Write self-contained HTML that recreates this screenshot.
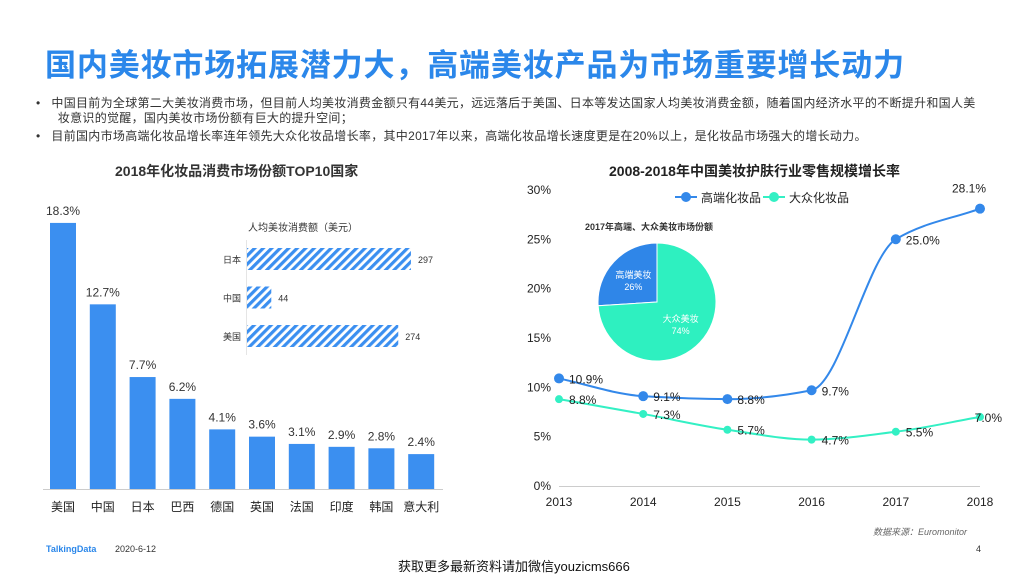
<!DOCTYPE html>
<html><head><meta charset="utf-8"><style>
body{margin:0;width:1024px;height:576px;overflow:hidden;background:#fff;font-family:"Liberation Sans","Noto Sans CJK SC",sans-serif;position:relative}
.t{position:absolute;white-space:nowrap}
</style></head><body>
<div class="t" style="left:45px;top:40px;font-size:31px;font-weight:bold;color:#2b87ea;letter-spacing:0.85px">国内美妆市场拓展潜力大，高端美妆产品为市场重要增长动力</div>
<div class="t" style="left:36px;top:96px;font-size:12px;color:#333;line-height:15px;white-space:normal;width:990px;letter-spacing:0.3px">•&nbsp;&nbsp;&nbsp;中国目前为全球第二大美妆消费市场，但目前人均美妆消费金额只有44美元，远远落后于美国、日本等发达国家人均美妆消费金额，随着国内经济水平的不断提升和国人美<br>&nbsp;&nbsp;&nbsp;&nbsp;&nbsp;&nbsp;妆意识的觉醒，国内美妆市场份额有巨大的提升空间；</div>
<div class="t" style="left:36px;top:127px;font-size:12px;color:#333;letter-spacing:0.3px">•&nbsp;&nbsp;&nbsp;目前国内市场高端化妆品增长率连年领先大众化妆品增长率，其中2017年以来，高端化妆品增长速度更是在20%以上，是化妆品市场强大的增长动力。</div>
<div class="t" style="left:115px;top:161px;font-size:14px;font-weight:bold;color:#333">2018年化妆品消费市场份额TOP10国家</div>
<div class="t" style="left:609px;top:161px;font-size:14px;font-weight:bold;color:#222">2008-2018年中国美妆护肤行业零售规模增长率</div>
<svg id="s" width="1024" height="576" style="position:absolute;left:0;top:0" font-family="Liberation Sans, Noto Sans CJK SC, sans-serif">
<defs><pattern id="h" width="6" height="6" patternUnits="userSpaceOnUse" patternTransform="rotate(45)"><rect width="6" height="6" fill="#fff"/><rect width="3.2" height="6" fill="#3b8ff0"/></pattern></defs>
</svg>
<div class="t" style="left:873px;top:525px;font-size:9px;font-style:italic;color:#666">数据来源：Euromonitor</div>
<div class="t" style="left:46px;top:544px;font-size:9px;color:#2b87ea;font-weight:bold">TalkingData</div>
<div class="t" style="left:115px;top:544px;font-size:9px;color:#333">2020-6-12</div>
<div class="t" style="left:976px;top:544px;font-size:9px;color:#333">4</div>
<div class="t" style="left:398px;top:556px;font-size:13px;color:#111">获取更多最新资料请加微信youzicms666</div>
<script>
const countries=['美国','中国','日本','巴西','德国','英国','法国','印度','韩国','意大利'];
const shares=[18.3,12.7,7.7,6.2,4.1,3.6,3.1,2.9,2.8,2.4];
const insetCats=['日本','中国','美国'];
const insetVals=[297,44,274];
const years=['2013','2014','2015','2016','2017','2018'];
const highEnd=[10.9,9.1,8.8,9.7,25.0,28.1];
const massMarket=[8.8,7.3,5.7,4.7,5.5,7.0];
const yTicks=[0,5,10,15,20,25,30];
const pieLabels=['高端美妆','大众美妆'];
const pieVals=[26,74];
const S=document.getElementById('s');const NS='http://www.w3.org/2000/svg';
function mk(t,a,txt){const e=document.createElementNS(NS,t);for(const k in a)e.setAttribute(k,a[k]);if(txt!==undefined)e.textContent=txt;S.appendChild(e);return e;}
const bx=i=>63+i*39.8, by=v=>489-v*14.54;
countries.forEach((c,i)=>{
 const r=mk('rect',{x:bx(i)-13,y:by(shares[i]),width:26,height:489-by(shares[i]),fill:'#3b8ff0'});
 
 
 const v=mk('text',{x:bx(i),y:by(shares[i])-8,'font-size':12,'text-anchor':'middle',fill:'#333'},shares[i].toFixed(1)+'%');
 
 
 const l=mk('text',{x:bx(i),y:511,'font-size':12,'text-anchor':'middle',fill:'#222'},c);
 
 
});
mk('line',{x1:43,x2:443,y1:489.5,y2:489.5,stroke:'#ccc'});
const it=mk('text',{x:248,y:231,'font-size':10,fill:'#333'},'人均美妆消费额（美元）');


mk('line',{x1:246.5,x2:246.5,y1:240,y2:355,stroke:'#e5e5e5'});
const ix=v=>247+v*0.552;
insetCats.forEach((c,i)=>{const y=248+i*38.5;
 const r=mk('rect',{x:247,y:y,width:ix(insetVals[i])-247,height:22,fill:'url(#h)'});
 
 
 mk('text',{x:241,y:y+15,'font-size':9,'text-anchor':'end',fill:'#333'},c);
 mk('text',{x:ix(insetVals[i])+7,y:y+15,'font-size':9,fill:'#333'},insetVals[i]);
});
const lx=i=>559+i*84.2, ly=v=>486-v*9.87;
yTicks.forEach(t=>{mk('text',{x:551,y:ly(t)+4,'font-size':12,'text-anchor':'end',fill:'#222'},t+'%');});
mk('line',{x1:559,x2:980,y1:486.5,y2:486.5,stroke:'#ccc'});
years.forEach((y,i)=>{mk('text',{x:lx(i),y:506,'font-size':12,'text-anchor':'middle',fill:'#222'},y);});
function path(d){const p=d.map((v,i)=>[lx(i),ly(v)]);const n=p.length;
 const dl=[],m=[];for(let i=0;i<n-1;i++)dl.push((p[i+1][1]-p[i][1])/(p[i+1][0]-p[i][0]));
 m[0]=dl[0];m[n-1]=dl[n-2];
 for(let i=1;i<n-1;i++){m[i]=(dl[i-1]*dl[i]<=0)?0:(2/(1/dl[i-1]+1/dl[i]));}
 let s='M'+p[0];
 for(let i=0;i<n-1;i++){const h=(p[i+1][0]-p[i][0])/3;
  s+=' C'+(p[i][0]+h)+','+(p[i][1]+m[i]*h)+' '+(p[i+1][0]-h)+','+(p[i+1][1]-m[i+1]*h)+' '+p[i+1];}
 return s;}
[[highEnd,'#3388ea',5,'high'],[massMarket,'#33f0c4',4,'mass']].forEach(([d,c,r,n])=>{
 const pl=mk('path',{d:path(d),fill:'none',stroke:c,'stroke-width':2});
 
 
 d.forEach((v,i)=>{const pt=mk('circle',{cx:lx(i),cy:ly(v),r:r,fill:c});
  
  
  const last=i==d.length-1;
  mk('text',{x:last?(n=='high'?lx(i)+6:lx(i)+22):lx(i)+10,y:last&&n=='high'?ly(v)-16:ly(v)+5,'font-size':12,'text-anchor':last?'end':'start',fill:'#222'},v.toFixed(1)+'%');});
});
mk('line',{x1:675,x2:697,y1:197,y2:197,stroke:'#3388ea','stroke-width':2});mk('circle',{cx:686,cy:197,r:5,fill:'#3388ea'});
mk('text',{x:701,y:202,'font-size':12,fill:'#222'},'高端化妆品');
mk('line',{x1:763,x2:785,y1:197,y2:197,stroke:'#33f0c4','stroke-width':2});mk('circle',{cx:774,cy:197,r:5,fill:'#33f0c4'});
mk('text',{x:789,y:202,'font-size':12,fill:'#222'},'大众化妆品');
const pt=mk('text',{x:585,y:230,'font-size':9,'font-weight':'bold',fill:'#333'},'2017年高端、大众美妆市场份额');


const cx=657,cy=302,R=59;let a0=0;const pc=['#2f86e8','#2ef0c0'];
const tot=pieVals.reduce((a,b)=>a+b,0);
pieVals.forEach((v,i)=>{const a1=a0-v/tot*2*Math.PI;
 const P=a=>[cx+R*Math.sin(a),cy-R*Math.cos(a)];const s=P(a0),e=P(a1);
 const big=(v/tot>0.5)?1:0;
 const sl=mk('path',{d:`M${cx},${cy} L${s} A${R},${R} 0 ${big} 0 ${e} Z`,fill:pc[i],stroke:'#fff','stroke-width':1});
 
 
 const m=(a0+a1)/2;const lx2=cx+R*0.55*Math.sin(m),ly2=cy-R*0.55*Math.cos(m);
 mk('text',{x:lx2,y:ly2-2,'font-size':9,'text-anchor':'middle',fill:'#fff'},pieLabels[i]);
 mk('text',{x:lx2,y:ly2+10,'font-size':9,'text-anchor':'middle',fill:'#fff'},v+'%');
 a0=a1;});
</script>
</body></html>
